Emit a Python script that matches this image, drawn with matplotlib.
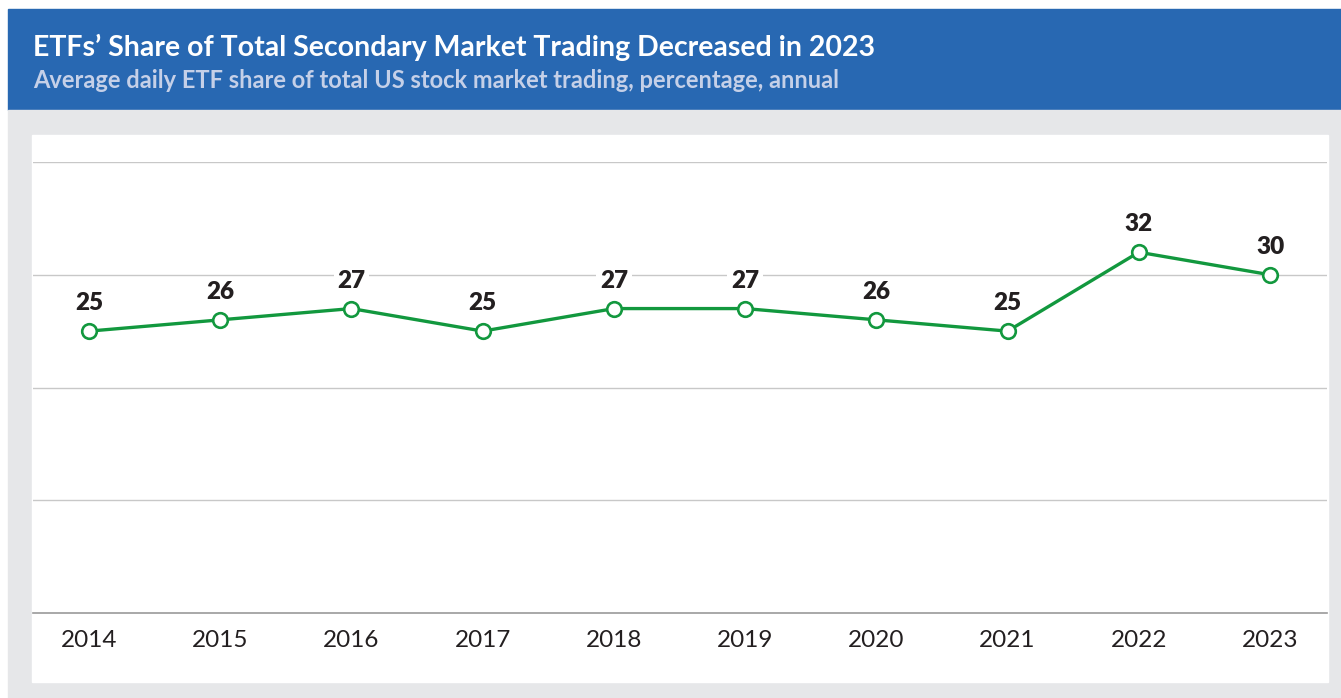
"""ETF share of secondary market trading, 2014-2023."""
import matplotlib.pyplot as plt
from matplotlib.patches import Rectangle

years = ['2014', '2015', '2016', '2017', '2018', '2019', '2020', '2021', '2022', '2023']
etf_share = [25, 26, 27, 25, 27, 27, 26, 25, 32, 30]

BLUE = '#2868B2'
GREY_BG = '#E6E7E9'
GREEN = '#12983E'
DARK = '#231F20'

plt.rcParams['font.family'] = ['Lato', 'DejaVu Sans']

W, H = 1341, 698
fig = plt.figure(figsize=(W / 100, H / 100), dpi=100)
fig.patch.set_facecolor('white')

# header band, grey frame and white panel (figure pixel coords)
def px_rect(x0, y0, x1, y1, color):
    fig.patches.append(Rectangle((x0 / W, 1 - y1 / H), (x1 - x0) / W, (y1 - y0) / H,
                                 transform=fig.transFigure, color=color, zorder=-5))

px_rect(8, 9, W, 110, BLUE)
px_rect(8, 110, W, H, GREY_BG)
px_rect(32, 135, 1328, 682, 'white')

fig.text(33 / W, 1 - 47 / H, 'ETFs\u2019 Share of Total Secondary Market Trading Decreased in 2023',
         color='white', fontsize=20.5, fontweight='bold', va='center', ha='left')
fig.text(33 / W, 1 - 81 / H, 'Average daily ETF share of total US stock market trading, percentage, annual',
         color='#C5D0E8', fontsize=17, fontweight='bold', va='center', ha='left')

ax = fig.add_axes([33 / W, 1 - 613 / H, (1327 - 33) / W, (613 - 162) / H])
ax.set_zorder(2)
ax.set_facecolor('white')
x = list(range(len(years)))
ax.plot(x, etf_share, color=GREEN, lw=2.4, marker='o', ms=10.5,
        mfc='white', mec=GREEN, mew=1.9, zorder=3, clip_on=False)
for xi, v in zip(x, etf_share):
    ax.annotate(str(v), (xi, v), xytext=(0, 20), textcoords='offset points',
                ha='center', va='center', fontsize=17.5, fontweight='heavy', color=DARK,
                bbox=dict(boxstyle='square,pad=0.15', fc='white', ec='none'), zorder=4)

ax.set_xlim(-0.427, 9.434)
ax.set_ylim(0, 40)
ax.set_yticks([10, 20, 30, 40])
ax.set_yticklabels([])
ax.tick_params(axis='y', length=0)
ax.grid(axis='y', color='#C8C8C8', lw=1)
ax.set_axisbelow(True)
ax.set_xticks(x)
ax.set_xticklabels(years, fontsize=17.5, color=DARK)
ax.tick_params(axis='x', length=0, pad=12)
for side in ['top', 'left', 'right']:
    ax.spines[side].set_visible(False)
ax.spines['bottom'].set_color('#999999')
ax.spines['bottom'].set_linewidth(1.2)

plt.savefig('out.png', dpi=100, facecolor='white')
